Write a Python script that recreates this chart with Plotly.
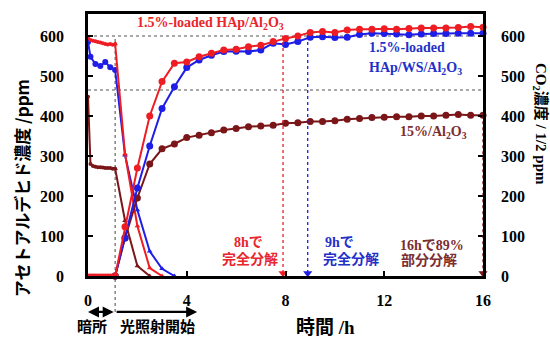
import plotly.graph_objects as go

# ---------------- data ----------------
# dark period (acetaldehyde adsorption), hours
t_dark = [0.0, 0.1, 0.2, 0.3, 0.4, 0.5, 0.6, 0.7, 0.8, 0.9, 1.0, 1.1]
red_ace_dark = [595, 590, 588, 587, 585, 584, 582, 580, 579, 580, 578, 580]
brown_ace_dark = [448, 280, 275, 273, 272, 272, 271, 270, 270, 270, 268, 268]
t_blue_dark = [0.0, 0.1, 0.3, 0.5, 0.7, 0.9, 1.1]
blue_ace_dark = [585, 548, 530, 525, 535, 522, 515]
co2_dark = [0, 0, 0, 0, 0, 0, 0, 0, 0, 0, 0, 0]

# light period acetaldehyde decay
t_red_ace = [1.1, 1.5, 2.0, 2.5, 3.0]
red_ace = [580, 305, 125, 20, 0]
t_blue_ace = [1.1, 1.5, 2.0, 2.5, 3.0, 3.5]
blue_ace = [515, 302, 165, 62, 18, 0]
t_brown_ace = [1.1, 1.5, 2.0, 2.5]
brown_ace = [268, 138, 25, 0]

# light period CO2 (right axis, 1/2 ppm)
t_light = [1.1, 1.5, 2.0, 2.5, 3.0, 3.5, 4.0, 4.5, 5.0, 5.5, 6.0, 6.5, 7.0, 7.5,
           8.0, 8.5, 9.0, 9.5, 10.0, 10.5, 11.0, 11.5, 12.0, 12.5, 13.0, 13.5,
           14.0, 14.5, 15.0, 15.5, 16.0]
red_co2 = [0, 123, 270, 400, 486, 532, 535, 548, 557, 565, 567, 573, 577, 586,
           594, 600, 609, 611, 609, 615, 617, 617, 618, 617, 619, 620, 620, 620,
           621, 624, 622]
blue_co2 = [0, 95, 220, 325, 419, 473, 521, 540, 552, 561, 562, 561, 565, 582,
            579, 586, 597, 598, 596, 597, 604, 607, 606, 605, 603, 605, 606, 606,
            607, 607, 607]
brown_co2 = [0, 95, 195, 280, 318, 330, 346, 352, 358, 365, 369, 373, 375, 377,
             382, 383, 386, 386, 388, 392, 394, 396, 397, 398, 398, 400, 400, 402,
             404, 402, 402]

x_ticks = [0, 4, 8, 12, 16]
y_ticks = [0, 100, 200, 300, 400, 500, 600]
ref_levels = [600, 465]
light_on = 1.1
complete_times = [7.9, 8.9, 16]
complete_tops = [600, 600, 402]

RED = "#EE1D23"
BLUE = "#1E1EE6"
BROWN = "#7A1518"
RED_T = "#E8262B"
BLUE_T = "#2330C8"
BROWN_T = "#7B2E30"

SERIF = "Liberation Serif, Noto Sans CJK JP"
CJK = "Noto Sans CJK JP"

fig = go.Figure()

def add(x, y, color, symbol, size, axis="y"):
    fig.add_trace(go.Scatter(
        x=x, y=y, mode="lines+markers", yaxis=axis,
        line=dict(color=color, width=2),
        marker=dict(color=color, symbol=symbol, size=size),
        cliponaxis=False, hoverinfo="skip"))

# acetaldehyde
add(t_dark, brown_ace_dark, BROWN, "circle", 4)
add(t_brown_ace, brown_ace, BROWN, "triangle-up", 5)
add(t_blue_dark, blue_ace_dark, BLUE, "circle", 6)
add(t_blue_ace, blue_ace, BLUE, "triangle-up", 5)
add(t_dark, red_ace_dark, RED, "circle", 4)
add(t_red_ace, red_ace, RED, "triangle-up", 5)

# CO2
add(t_light, brown_co2, BROWN, "circle", 7, "y2")
add(t_light, blue_co2, BLUE, "circle", 7, "y2")
add(t_light, red_co2, RED, "circle", 7, "y2")
add(t_dark, co2_dark, RED, "circle", 5, "y2")

shapes = []
for lv in ref_levels:
    shapes.append(dict(type="line", xref="x", yref="y", x0=0, x1=16, y0=lv, y1=lv,
                       line=dict(color="#8C8C8C", width=1.5, dash="dot"), layer="below"))
shapes.append(dict(type="line", xref="x", yref="paper", x0=light_on, x1=light_on,
                   y0=-0.137, y1=600 / 655,
                   line=dict(color="#707070", width=1.3, dash="dot"), layer="below"))
for tt, top, col in zip(complete_times, complete_tops, [RED, BLUE, BROWN]):
    shapes.append(dict(type="line", xref="x", yref="y", x0=tt, x1=tt, y0=top, y1=0,
                       line=dict(color=col, width=1.3, dash="dot")))

fig.add_trace(go.Scatter(x=complete_times, y=[7, 7, 7], mode="markers",
                         marker=dict(symbol="triangle-down", size=8,
                                     color=[RED, BLUE, BROWN]),
                         cliponaxis=False, hoverinfo="skip"))

ann = []
def txt(x, y, text, color, size=14, family=SERIF, xref="x", yref="y", angle=0,
        xanchor="center"):
    ann.append(dict(x=x, y=y, xref=xref, yref=yref, text=text, showarrow=False,
                    textangle=angle, xanchor=xanchor, yanchor="middle",
                    font=dict(family=family, size=size, color=color, weight="bold")))

txt(4.95, 632, "1.5%-loaded HAp/Al<sub>2</sub>O<sub>3</sub>", RED_T, 14)
txt(11.3, 572, "1.5%-loaded", BLUE_T, 14, xanchor="left")
txt(11.3, 520, "HAp/WS/Al<sub>2</sub>O<sub>3</sub>", BLUE_T, 14, xanchor="left")
txt(14.0, 360, "15%/Al<sub>2</sub>O<sub>3</sub>", BROWN_T, 14)
txt(6.5, 85, "8hで", RED_T, 14)
txt(6.55, 42, "完全分解", RED_T, 14)
txt(10.17, 85, "9hで", BLUE_T, 14)
txt(10.65, 42, "完全分解", BLUE_T, 14)
txt(12.55, 77, "16hで89%", BROWN_T, 14, xanchor="left")
txt(12.6, 40, "部分分解", BROWN_T, 14, xanchor="left")

txt(-0.1696, 0.335, "アセトアルデヒド濃度 /ppm", "black", 17, CJK, "paper", "paper", -90)
txt(1.147, 0.58, "CO<sub>2</sub>濃度 / 1/2 ppm", "black", 15, SERIF, "paper", "paper", 90)
txt(0.6, -0.195, "時間 /h", "black", 19, SERIF, "paper", "paper")
txt(0.0101, -0.188, "暗所", "black", 15, CJK, "paper", "paper")
txt(0.176, -0.188, "光照射開始", "black", 15, CJK, "paper", "paper")

# arrows under axis
ann.append(dict(x=0, y=-0.137, xref="x", yref="paper", ax=light_on, ay=0,
                axref="x", ayref="pixel", showarrow=True, arrowhead=2,
                startarrowhead=2, arrowside="end+start", arrowwidth=2.2,
                arrowsize=1, arrowcolor="black", text=""))
ann.append(dict(x=4.42, y=-0.137, xref="x", yref="paper", ax=light_on, ay=0,
                axref="x", ayref="pixel", showarrow=True, arrowhead=2,
                arrowwidth=2.2, arrowsize=1, arrowcolor="black", text=""))

axis_font = dict(family="Liberation Serif", size=16, color="black", weight="bold")
fig.update_layout(
    width=550, height=337,
    margin=dict(l=88, r=67, t=14, b=61),
    paper_bgcolor="white", plot_bgcolor="white",
    showlegend=False,
    shapes=shapes, annotations=ann,
    xaxis=dict(range=[0, 16], tickvals=x_ticks, ticks="inside", ticklen=5,
               tickwidth=2, tickcolor="black", showline=True, linewidth=2.5,
               linecolor="black", mirror=True, showgrid=False, zeroline=False,
               tickfont=axis_font, ticklabelstandoff=8),
    yaxis=dict(range=[0, 655], tickvals=y_ticks, ticks="inside", ticklen=5,
               tickwidth=2, tickcolor="black", showline=True, linewidth=2.5,
               linecolor="black", mirror=True, showgrid=False, zeroline=False,
               tickfont=axis_font, ticklabelstandoff=18),
    yaxis2=dict(range=[0, 655], tickvals=y_ticks, ticks="inside", ticklen=5,
                tickwidth=2, tickcolor="black", showline=True, linewidth=2.5,
                linecolor="black", side="right", overlaying="y", showgrid=False,
                zeroline=False, tickfont=axis_font, ticklabelstandoff=12),
)

fig.write_html("out.html", config={"displayModeBar": False},
               post_script="document.body.style.margin='0';document.body.style.overflow='hidden';")
